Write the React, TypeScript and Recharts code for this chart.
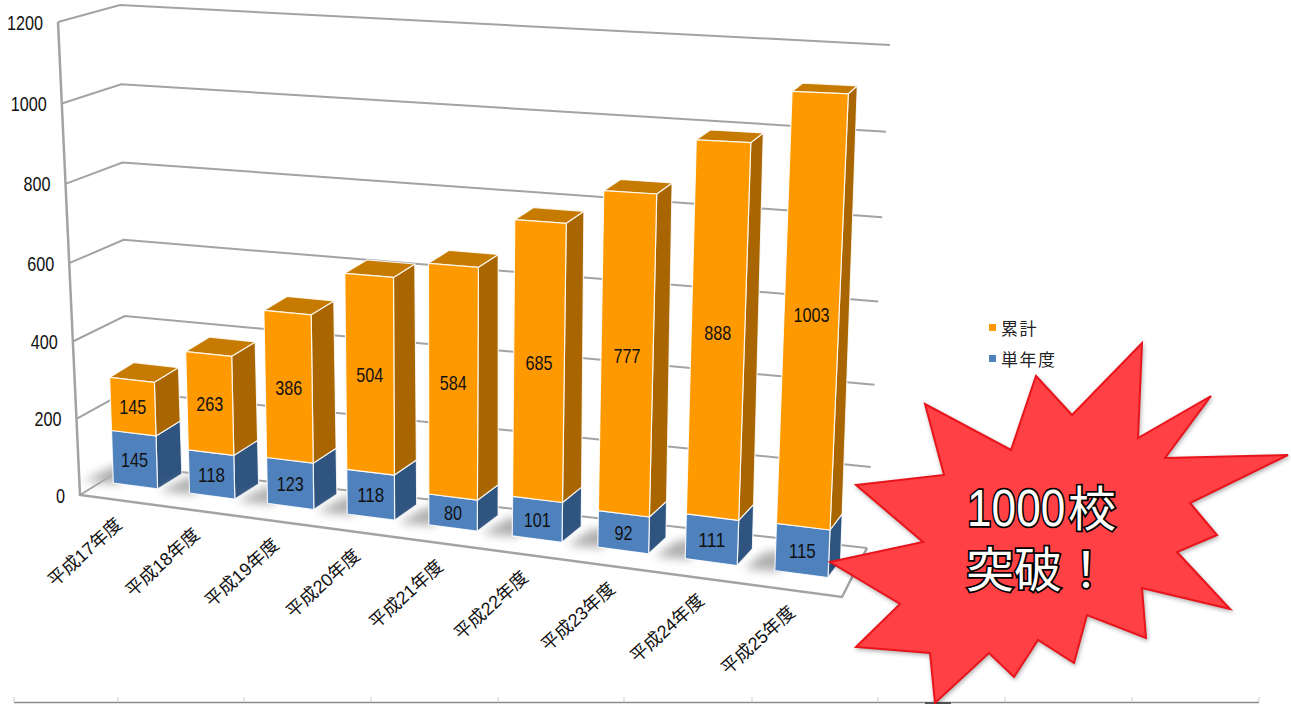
import { BarChart, Bar, XAxis, YAxis, CartesianGrid, LabelList, Legend } from "recharts";

const categories = ["平成17年度", "平成18年度", "平成19年度", "平成20年度", "平成21年度", "平成22年度", "平成23年度", "平成24年度", "平成25年度"];
const singleYear = [145, 118, 123, 118, 80, 101, 92, 111, 115];
const cumulative = [145, 263, 386, 504, 584, 685, 777, 888, 1003];
const yTicks = [0, 200, 400, 600, 800, 1000, 1200];

const chartData = categories.map((name, i) => ({ name, single: singleYear[i], total: cumulative[i] }));

const CHART_W = 1291;
const CHART_H = 704;
// flat plot rectangle handed to Recharts; everything is projected from it
const plot = { left: 100, top: 30, width: 740, height: 460 };

const LATIN = "'Liberation Sans', 'Noto Sans CJK JP', sans-serif";
const DIGIT_W = 9;

type Pt = [number, number];

// unit square -> quad (tl, tr, br, bl), perspective mapping
const makeQuad = (p0: Pt, p1: Pt, p2: Pt, p3: Pt) => {
    const dx1 = p1[0] - p2[0], dx2 = p3[0] - p2[0], sx = p0[0] - p1[0] + p2[0] - p3[0];
    const dy1 = p1[1] - p2[1], dy2 = p3[1] - p2[1], sy = p0[1] - p1[1] + p2[1] - p3[1];
    const den = dx1 * dy2 - dx2 * dy1;
    const g = (sx * dy2 - dx2 * sy) / den;
    const h = (dx1 * sy - sx * dy1) / den;
    const a = p1[0] - p0[0] + g * p1[0], b = p3[0] - p0[0] + h * p3[0], c = p0[0];
    const d = p1[1] - p0[1] + g * p1[1], e = p3[1] - p0[1] + h * p3[1], f = p0[1];
    return (s: number, t: number): Pt => {
        const w = g * s + h * t + 1;
        return [(a * s + b * t + c) / w, (d * s + e * t + f) / w];
    };
};

const frontPlane = makeQuad([81, 29], [870, 57], [847, 580], [97.5, 481]);
const backPlane = makeQuad([105, 16], [878, 50], [859, 563], [122, 466]);
const wallPlane = makeQuad([120, 5], [890, 45], [867, 548], [127, 466]);

const AXIS_TOP: Pt = [58, 22];
const AXIS_BOTTOM: Pt = [80, 495];
const axisPoint = (t: number): Pt => {
    const bowed = t + 0.04 * t * (1 - t);
    return [
        AXIS_TOP[0] + (AXIS_BOTTOM[0] - AXIS_TOP[0]) * bowed,
        AXIS_TOP[1] + (AXIS_BOTTOM[1] - AXIS_TOP[1]) * bowed,
    ];
};

// slight bow across the width, the plain projection crowds the left bars
const toS = (x: number) => {
    const s = (x - plot.left) / plot.width;
    return s + 0.045 * s * (1 - s);
};
const toT = (y: number) => (y - plot.top) / plot.height;
const front = (x: number, y: number) => frontPlane(toS(x), toT(y));
const back = (x: number, y: number) => backPlane(toS(x), toT(y));
const pts = (list: Pt[]) => list.map((p) => `${p[0].toFixed(1)},${p[1].toFixed(1)}`).join(" ");

const GRID_COLOR = "#a3a3a3";

const GridRow = (props: any) => {
    const t = toT(props.y1);
    const isFloor = Math.abs(t - 1) < 0.001;
    return (
        <g key={`row-${props.y1}`}>
            <polyline
                points={pts([axisPoint(t), wallPlane(0, t), wallPlane(1, t)])}
                fill="none"
                stroke={GRID_COLOR}
                strokeWidth={2}
            />
            {isFloor && (
                <polyline
                    points={pts([AXIS_TOP, AXIS_BOTTOM, [842, 597], wallPlane(1, 1)])}
                    fill="none"
                    stroke={GRID_COLOR}
                    strokeWidth={2.5}
                />
            )}
        </g>
    );
};

// one stack segment as a box: side, top, then front face
const BoxShape = (props: any) => {
    const { x, y, width, height, colors, withTop, withShadow } = props;
    const bottom = y + height;
    const right = x + width;
    const fl = front(x, bottom), fr = front(right, bottom), tr = front(right, y), tl = front(x, y);
    const bl = back(x, bottom), br = back(right, bottom), btr = back(right, y), btl = back(x, y);
    const edge = { stroke: "#fff", strokeWidth: 1.2, strokeOpacity: 0.85, strokeLinejoin: "round" as const };
    return (
        <g>
            {withShadow && (
                <polygon
                    points={pts([[fl[0] + 4, fl[1] + 1], [bl[0], bl[1] - 2], [bl[0] - 24, bl[1] - 2], [fl[0] - 30, fl[1] - 2]])}
                    fill="#b0b0b0"
                    style={{ filter: "blur(5px)" }}
                />
            )}
            <polygon points={pts([fr, br, btr, tr])} fill={colors.side} {...edge} />
            {withTop && <polygon points={pts([tl, tr, btr, btl])} fill={colors.top} {...edge} />}
            <polygon points={pts([tl, tr, fr, fl])} fill={colors.front} {...edge} />
        </g>
    );
};

const blueFaces = { front: "#4F81BD", side: "#2F5480", top: "#3A6494" };
const orangeFaces = { front: "#FF9900", side: "#A86500", top: "#C67A00" };

const renderBlue = (props: any) => <BoxShape {...props} colors={blueFaces} withShadow />;
const renderOrange = (props: any) => <BoxShape {...props} colors={orangeFaces} withTop />;

// tall condensed digits, squeezed to a fixed advance
const Digits = ({ x, y, anchor, value }: any) => {
    const label = String(value);
    return (
        <text
            x={x}
            y={y}
            textAnchor={anchor}
            dominantBaseline="central"
            fontFamily={LATIN}
            fontSize={21}
            fill="#111"
            textLength={label.length * DIGIT_W}
            lengthAdjust="spacingAndGlyphs"
        >
            {label}
        </text>
    );
};

const BarValue = (props: any) => {
    const box = props.viewBox ?? props;
    const [cx, cy] = front(box.x + box.width / 2, box.y + box.height / 2);
    return <Digits x={cx} y={cy} anchor="middle" value={props.value} />;
};

const YTick = (props: any) => {
    const [ax, ay] = axisPoint(toT(props.y));
    return <Digits x={ax - 15} y={ay} anchor="end" value={props.payload.value} />;
};

const XTick = (props: any) => {
    const [bx, by] = front(props.x, plot.top + plot.height);
    const lx = bx - 12 + props.index * 0.9;
    const ly = by + 40;
    return (
        <text x={lx} y={ly} textAnchor="end" fontFamily={LATIN} fontSize={18} fill="#111" transform={`rotate(-42 ${lx} ${ly})`}>
            {props.payload.value}
        </text>
    );
};

const legendOrder = ["total", "single"];

const LegendBox = ({ payload }: any) => {
    const items = legendOrder.map((key) => (payload ?? []).find((p: any) => p.dataKey === key)).filter(Boolean);
    return (
        <div>
            {items.map((item: any) => (
                <div key={item.dataKey} style={{ display: "flex", alignItems: "center", height: 31, fontFamily: LATIN, fontSize: 17, letterSpacing: 1.5, color: "#222" }}>
                    <span style={{ display: "inline-block", width: 7, height: 7, background: item.color, marginRight: 5 }} />
                    {item.value}
                </div>
            ))}
        </div>
    );
};

const burst: Pt[] = [
    [1142, 343], [1138, 438], [1211, 396], [1165, 458], [1288, 455], [1190, 503], [1217, 535], [1177, 552],
    [1230, 609], [1142, 588], [1146, 638], [1087, 615], [1074, 663], [1038, 640], [1014, 677], [989, 653],
    [935, 703], [930, 653], [856, 647], [900, 604], [830, 562], [923, 542], [856, 485], [944, 475],
    [925, 404], [1011, 450], [1036, 376], [1072, 415],
];

const rulerTicks = [14, 118, 244, 371, 498, 624, 752, 878, 1005, 1132, 1259];

const Overlay = () => (
    <svg width={CHART_W} height={CHART_H} style={{ position: "absolute", left: 0, top: 0, pointerEvents: "none" }}>
        <line x1={14} x2={1259} y1={702.5} y2={702.5} stroke="#8a8a8a" strokeWidth={1.5} />
        {rulerTicks.map((tx) => (
            <line key={tx} x1={tx} x2={tx} y1={697} y2={702} stroke="#dcdcdc" strokeWidth={1.5} />
        ))}
        <rect x={925} y={702} width={26} height={3} fill="#555" />
        <polygon points={pts(burst)} fill="#FF4044" stroke="#E8141C" strokeWidth={2} strokeLinejoin="miter" style={{ filter: "drop-shadow(1px 2px 2px rgba(0,0,0,0.3))" }} />
        <g fill="#fff" stroke="#000" strokeWidth={3.5} style={{ paintOrder: "stroke" }}>
            <text transform="translate(967 526) scale(0.85 1)" fontFamily={LATIN} fontSize={52}>
                1000
            </text>
            <text x={1068} y={526} fontFamily={LATIN} fontSize={48}>
                校
            </text>
            <text x={966} y={587} fontFamily={LATIN} fontSize={48}>
                突破！
            </text>
        </g>
    </svg>
);

const App = () => {
    return (
        <div style={{ position: "absolute", left: 0, top: 0, width: CHART_W, height: CHART_H, background: "#fff", overflow: "hidden" }}>
            <BarChart
                width={CHART_W}
                height={CHART_H}
                data={chartData}
                barCategoryGap="21%"
                margin={{ top: plot.top, left: plot.left - 40, right: CHART_W - plot.left - plot.width, bottom: CHART_H - plot.top - plot.height - 40 }}
            >
                <CartesianGrid horizontal={GridRow} vertical={false} />
                <XAxis dataKey="name" height={40} interval={0} axisLine={false} tickLine={false} tick={XTick} />
                <YAxis width={40} domain={[0, 1200]} ticks={yTicks} interval={0} axisLine={false} tickLine={false} tick={YTick} />
                <Legend
                    layout="vertical"
                    align="center"
                    verticalAlign="middle"
                    content={LegendBox}
                    wrapperStyle={{ left: 989, top: 312, width: 90 }}
                />
                <Bar dataKey="single" name="単年度" stackId="a" fill="#4F81BD" shape={renderBlue} isAnimationActive={false}>
                    <LabelList dataKey="single" content={BarValue} />
                </Bar>
                <Bar dataKey="total" name="累計" stackId="a" fill="#FF9900" shape={renderOrange} isAnimationActive={false}>
                    <LabelList dataKey="total" content={BarValue} />
                </Bar>
            </BarChart>
            <Overlay />
        </div>
    );
};

export default App;
